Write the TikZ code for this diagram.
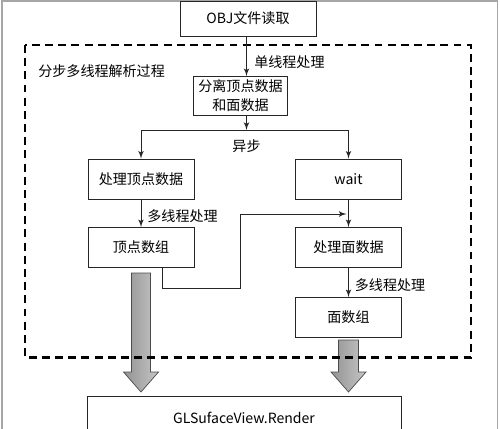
\documentclass[tikz,border=0pt]{standalone}
\usepackage{fontspec}
\setmainfont{Noto Sans CJK SC}
\usetikzlibrary{calc}
\usetikzlibrary{arrows}

\tikzset{
  box/.style={draw=black!85, line width=.5pt, inner sep=0, minimum width=2.12cm, minimum height=.8cm, align=center},
  link/.style={draw=black!85, line width=.5pt, ->, >=latex'},
  tag/.style={inner sep=0}
}

\begin{document}
\begin{tikzpicture}[x=0.02cm, y=-0.02cm, font=\fontsize{8}{10.8}\selectfont]
\useasboundingbox (0,0) rectangle (500,429);
\clip (0,0) rectangle (500,429);
\draw[gray!70, line width=.8pt] (2,440) |- (497.5,1) -- (497.5,440);

% boxes
\node[box, minimum width=2.72cm, minimum height=.7cm] (obj) at (248,18.5) {OBJ文件读取};
\node[box, minimum width=1.88cm, minimum height=.78cm] (split) at (240.5,96) {分离顶点数据\\和面数据};
\node[box] (vproc) at (141,179) {处理顶点数据};
\node[box] (wait) at (348.5,179) {wait};
\node[box] (varr) at (141,247.5) {顶点数组};
\node[box] (fproc) at (348.5,247.5) {处理面数据};
\node[box] (farr) at (348.5,317.5) {面数组};
\node[box, minimum width=6.28cm, minimum height=.88cm] (gl) at (244,418) {GLSufaceView.Render};

% big gray arrows
\foreach \x/\t/\w in {141/273/9.5, 348.5/340/10} {
  \shade[left color=gray!85, right color=gray!45, draw=gray!60!black, line width=.4pt]
    ({\x-\w},\t) -- ({\x+\w},\t) -- ({\x+\w},372) -- ({\x+17.5},372) -- (\x,392)
    -- ({\x-17.5},372) -- ({\x-\w},372) -- cycle;
}

% dashed frame
\draw[line width=1.2pt, dash pattern=on 4.5pt off 3pt] (25,45) rectangle (471,357.5);
\node[tag, right] (title) at (38,71) {分步多线程解析过程};

% connectors
\coordinate (mid) at (246.5,0);
\coordinate (fork) at (246.5,130);
\coordinate (tap) at (162,0);
\coordinate (turn) at (240,288);
\coordinate (join) at (346.5,214);
\draw[link] (obj.south -| mid) -- node[tag, right, pos=.65, xshift=4.2pt] (single) {单线程处理} (split.north -| mid);
\draw[link] (split.south -| mid) -- (fork);
\draw[link] (fork) -| (vproc.north);
\draw[link] (fork) -| (wait.north);
\node[tag] (async) at (246.5,146) {异步};
\draw[link] (vproc) -- node[tag, right, pos=.6, xshift=3.4pt] (multia) {多线程处理} (varr);
\draw[link] (wait) -- (fproc);
\draw[link] (fproc) -- node[tag, right, pos=.6, xshift=3.4pt] (multib) {多线程处理} (farr);
\draw[link] (varr.south -| tap) |- (turn) |- (join);
\end{tikzpicture}
\end{document}
